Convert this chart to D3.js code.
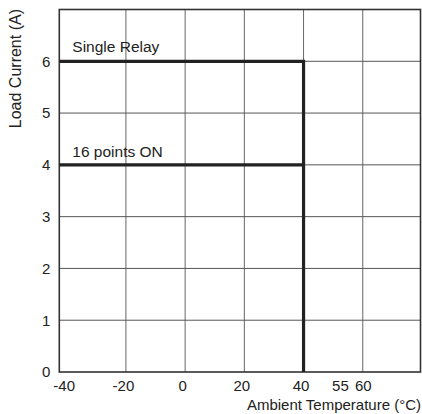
<!DOCTYPE html>
<html>
<head>
<meta charset="utf-8">
<script src="https://cdn.jsdelivr.net/npm/d3@7"></script>
<style>
  html, body { margin: 0; padding: 0; background: #fff; }
  svg { display: block; }
  text { font-family: "Liberation Sans", Arial, sans-serif; fill: #222; }
</style>
</head>
<body>
<svg id="chart" width="422" height="414"></svg>
<script>
// ---- data ----
const xDomain = [-42.5, 79.5];
const yDomain = [0, 7];
const xTickValues = [-40, -20, 0, 20, 40, 55, 60];
const xGridValues = [-20, 0, 20, 40, 60];
const yTickValues = [0, 1, 2, 3, 4, 5, 6];
const singleRelayTemp = [-42.5, 40, 40];
const singleRelayCurrent = [6, 6, 0];
const pointsOnTemp = [-42.5, 40];
const pointsOnCurrent = [4, 4];
const seriesLabels = ["Single Relay", "16 points ON"];
const xTitle = "Ambient Temperature (°C)";
const yTitle = "Load Current (A)";

// ---- layout ----
const W = 422, H = 414;
const margin = { top: 9.5, right: 1.5, bottom: 42, left: 59.3 };
const svg = d3.select("#chart");
const x = d3.scaleLinear().domain(xDomain).range([margin.left, W - margin.right]);
const y = d3.scaleLinear().domain(yDomain).range([H - margin.bottom, margin.top]);
const fontFam = "'Liberation Sans', Arial, sans-serif";

// grid
const g = svg.append("g");
g.selectAll("line.vg").data(xGridValues).join("line")
  .attr("x1", d => x(d)).attr("x2", d => x(d))
  .attr("y1", y(yDomain[0])).attr("y2", y(yDomain[1]))
  .attr("stroke", "#666").attr("stroke-width", 1);
g.selectAll("line.hg").data(yTickValues.slice(1)).join("line")
  .attr("x1", x(xDomain[0])).attr("x2", x(xDomain[1]))
  .attr("y1", d => y(d)).attr("y2", d => y(d))
  .attr("stroke", "#555").attr("stroke-width", 1);

// frame
svg.append("rect")
  .attr("x", x(xDomain[0])).attr("y", y(yDomain[1]))
  .attr("width", x(xDomain[1]) - x(xDomain[0]))
  .attr("height", y(yDomain[0]) - y(yDomain[1]))
  .attr("fill", "none").attr("stroke", "#333").attr("stroke-width", 1.6);

// axes (labels only)
const xAxis = d3.axisBottom(x).tickValues(xTickValues).tickSize(0).tickPadding(8)
  .tickFormat(d => String(d));
const xa = svg.append("g").attr("transform", `translate(0,${y(0)})`).call(xAxis);
xa.select(".domain").remove();
xa.selectAll("text").attr("font-size", 15)
  .attr("dx", d => d === 55 ? -8 : (d === 60 ? 0 : -3))
  .style("font-family", fontFam).attr("fill", "#222");

const yAxis = d3.axisLeft(y).tickValues(yTickValues).tickSize(0).tickPadding(9)
  .tickFormat(d => String(d));
const ya = svg.append("g").attr("transform", `translate(${x(xDomain[0])},0)`).call(yAxis);
ya.select(".domain").remove();
ya.selectAll("text").attr("font-size", 15)
  .style("font-family", fontFam).attr("fill", "#222");

// series lines
const line = d3.line().x(d => x(d[0])).y(d => y(d[1]));
const s1 = d3.zip(singleRelayTemp, singleRelayCurrent);
const s2 = d3.zip(pointsOnTemp, pointsOnCurrent);
svg.append("path").attr("d", line(s2)).attr("fill", "none")
  .attr("stroke", "#222").attr("stroke-width", 3.2);
svg.append("path").attr("d", line(s1)).attr("fill", "none")
  .attr("stroke", "#222").attr("stroke-width", 3.2).attr("stroke-linejoin", "miter");

// series labels
svg.append("text").attr("x", x(xDomain[0]) + 13).attr("y", y(singleRelayCurrent[0]) - 9)
  .attr("font-size", 15.5).text(seriesLabels[0]);
svg.append("text").attr("x", x(xDomain[0]) + 13).attr("y", y(pointsOnCurrent[0]) - 8)
  .attr("font-size", 15.5).text(seriesLabels[1]);

// titles
svg.append("text").attr("x", W - 1).attr("y", 410).attr("text-anchor", "end")
  .attr("font-size", 15).text(xTitle);
svg.append("text").attr("transform", `translate(21,9) rotate(-90)`)
  .attr("text-anchor", "end").attr("font-size", 16).text(yTitle);
</script>
</body>
</html>
